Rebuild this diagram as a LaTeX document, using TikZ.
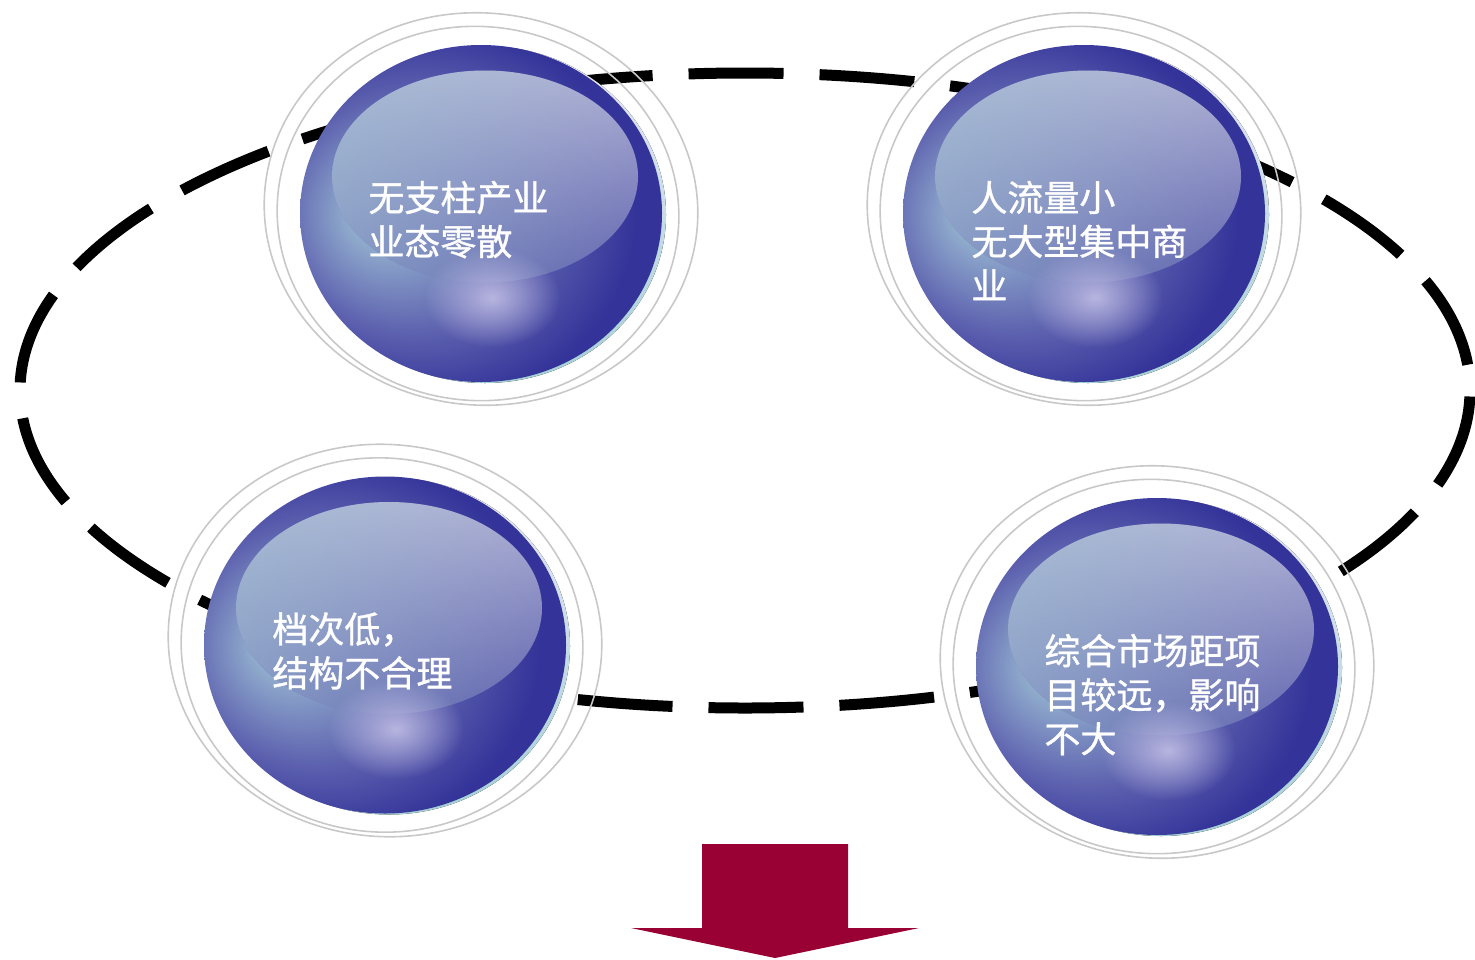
\documentclass[tikz,border=0pt]{standalone}
\usepackage{fontspec}
\newfontfamily\cjk[FakeBold=1]{Noto Sans CJK SC}
\usetikzlibrary{fadings}
\definecolor{navy}{RGB}{51,51,153}
\definecolor{bodyA}{RGB}{162,198,212}
\definecolor{bodyB}{RGB}{132,154,198}
\definecolor{bodyC}{RGB}{92,96,174}
\definecolor{backtop}{RGB}{232,232,246}
\definecolor{backbot}{RGB}{165,208,214}
\definecolor{hltop}{RGB}{176,178,213}
\definecolor{hlmid}{RGB}{192,203,224}
\definecolor{hlbot}{RGB}{96,99,175}
\definecolor{glowc}{RGB}{188,185,226}
\definecolor{ringgray}{RGB}{200,200,200}
\definecolor{arrowred}{RGB}{153,0,51}
\pgfdeclareradialshading{spherebody}{\pgfpoint{-15bp}{0bp}}{color(0bp)=(bodyA); color(8bp)=(bodyB); color(18bp)=(bodyC); color(28bp)=(navy); color(50bp)=(navy)}
\tikzfading[name=glowfade, inner color=transparent!5, outer color=transparent!100]
\tikzfading[name=tintfade, left color=transparent!45, right color=transparent!100]
\tikzset{
  ring/.style={draw=ringgray, line width=0.8pt},
  spheretext/.style={text=white, font=\cjk\fontsize{18}{22}\selectfont, align=left, inner sep=0pt},
  ovalpath/.style={line width=5.5pt, dash pattern=on 47.5pt off 18pt, dash phase=62.5pt},
}
\newcommand\glossysphere[4]{%
\begin{scope}[shift={(#2,#3)}]
  \fill[top color=backtop, bottom color=backbot] (4,1) ellipse [x radius=181, y radius=168.5];
  \shade[shading=spherebody] (0,0) ellipse [x radius=181, y radius=168.5];
  \shade[top color=hltop, middle color=hlmid, bottom color=hlbot] (4,-37) ellipse [x radius=153, y radius=106];
  \fill[bodyA, path fading=tintfade] (4,-37) ellipse [x radius=153, y radius=106];
  \fill[glowc, path fading=glowfade] (11,84) ellipse [x radius=68, y radius=50];
  \draw[ring, rotate around={-6:(0,-4.5)}] (0,-4.5) ellipse [x radius=217, y radius=196];
  \draw[ring, rotate around={-6:(-3,0)}] (-3,0) ellipse [x radius=201, y radius=187];
  \node[spheretext, anchor=north west] (#1) at (-113,-33) {#4};
\end{scope}}
\begin{document}
\begin{tikzpicture}[x=0.5pt,y=-0.5pt]
\useasboundingbox (0,0) rectangle (1475,959);
\draw[ovalpath] (745,390.5) ellipse [x radius=725, y radius=317.5];
\glossysphere{s1}{481}{213.5}{无支柱产业\\业态零散}
\glossysphere{s2}{1084}{213.5}{人流量小\\无大型集中商\\业}
\glossysphere{s3}{385}{645}{档次低，\\结构不合理}
\glossysphere{s4}{1157}{666.5}{综合市场距项\\目较远，影响\\不大}
\fill[arrowred] (702,844) -- (848,844) -- (848,928) -- (919,928) -- (775,958) -- (631,928) -- (702,928) -- cycle;
\end{tikzpicture}
\end{document}
